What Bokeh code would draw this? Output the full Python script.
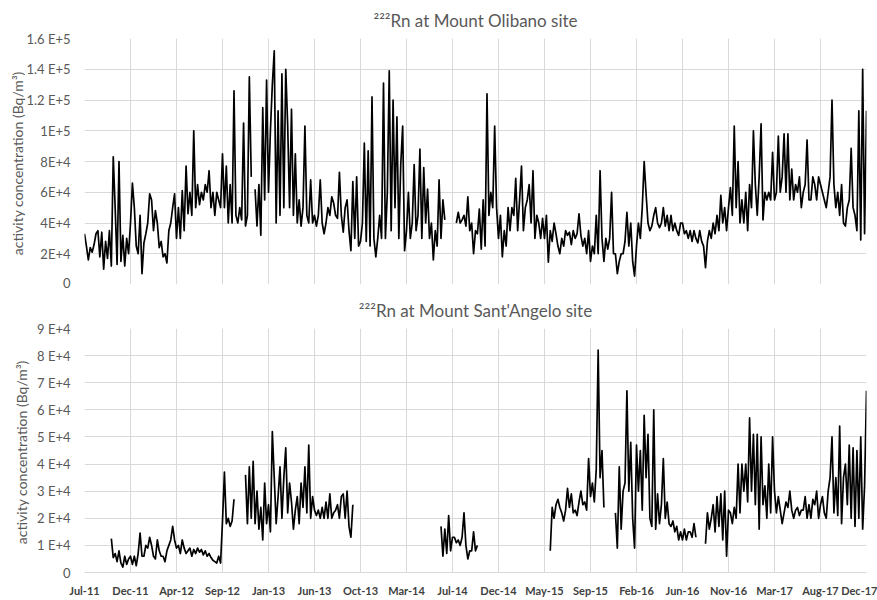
import numpy as np
from bokeh.plotting import figure
from bokeh.layouts import column
from bokeh.models import FixedTicker, Range1d
from bokeh.embed import file_html
from bokeh.resources import INLINE

N = None

# date-axis tick labels (evenly spaced, ~138 days apart, starting Jul-2011)
x_labels = ["Jul-11", "Dec-11", "Apr-12", "Sep-12", "Jan-13", "Jun-13", "Oct-13",
            "Mar-14", "Jul-14", "Dec-14", "May-15", "Sep-15", "Feb-16", "Jun-16",
            "Nov-16", "Mar-17", "Aug-17", "Dec-17"]
TICK_DAYS = 138.25          # days between labelled ticks
STEP_DAYS = TICK_DAYS / 24  # sampling interval of the series (days)

# 222Rn activity concentration at Mount Olibano, in units of 1E+4 Bq/m3
olibano_e4 = [
    3.3, 2.5, 1.6, 2.4, 2.1, 2.6, 3.3, 3.5, 1.8, 3.4, 1.0, 2.8, 1.7, 3.5, 1.2, 8.3, 5.0, 1.3, 8.0, 1.5, 3.2, 1.2, 3.0, 2.0,
    4.0, 6.6, 5.0, 2.5, 2.0, 4.5, 0.7, 2.7, 3.3, 4.0, 5.9, 5.5, 3.5, 4.8, 4.0, 2.4, 2.8, 1.8, 2.0, 1.4, 3.5, 4.0, 5.0, 5.9,
    3.0, 5.0, 3.0, 6.1, 3.5, 7.7, 4.6, 6.0, 4.5, 10.0, 5.0, 6.5, 5.2, 6.0, 5.5, 6.5, 6.0, 7.4, 5.0, 6.0, 4.5, 6.0, 5.5, 5.0,
    8.5, 5.0, 7.7, 4.0, 6.5, 4.0, 12.6, 4.5, 4.0, 5.0, 4.2, 10.5, 3.8, 4.5, 13.5, 7.0, N, 6.2, 3.8, 6.5, 3.2, 11.5, 5.5, 13.3,
    6.0, 10.0, 13.0, 15.2, 4.0, 11.3, 4.5, 13.7, 5.0, 14.0, 10.4, 5.0, 11.4, 4.5, 8.5, 4.0, 5.5, 3.8, 5.0, 10.3, 4.5, 4.0, 6.8, 4.0,
    4.5, 3.8, 4.5, 6.8, 4.0, 3.3, 4.0, 5.0, 4.5, 5.7, 5.3, 4.5, 4.3, 7.3, 4.5, 3.4, 5.0, 5.5, 3.5, 2.2, 6.7, 3.0, 7.0, 2.5,
    2.8, 4.0, 9.2, 2.8, 8.7, 2.5, 12.2, 3.0, 1.8, 3.0, 4.5, 3.0, 13.1, 3.0, 6.0, 13.9, 3.5, 12.0, 5.0, 10.9, 3.0, 7.8, 10.3, 2.2,
    3.5, 6.0, 3.0, 4.0, 7.8, 3.5, 4.5, 8.8, 3.0, 7.6, 4.0, 6.2, 3.0, 4.0, 1.6, 3.5, 2.5, 6.8, 3.0, 5.5, 4.2, N, N, N,
    N, N, 4.0, 4.7, 4.0, 4.2, 4.5, 3.8, 5.7, 3.5, 4.0, 2.0, 3.5, 3.3, 4.9, 2.3, 5.5, 2.5, 12.4, 4.5, 6.0, 5.0, 10.3, 5.0,
    3.0, 4.5, 1.8, 3.5, 2.5, 5.0, 3.5, 5.0, 4.5, 6.9, 3.5, 5.5, 7.7, 3.5, 5.0, 5.5, 6.5, 4.0, 7.4, 3.0, 4.5, 4.0, 3.0, 4.3,
    3.0, 4.5, 1.45, 3.5, 2.8, 4.0, 3.3, 2.5, 2.0, 3.0, 2.5, 3.5, 3.2, 3.4, 2.6, 3.5, 3.0, 3.3, 4.6, 3.2, 2.5, 3.0, 2.0, 3.5,
    1.5, 2.5, 2.0, 4.5, 2.0, 7.4, 3.0, 1.5, 3.0, 2.3, 3.0, 6.0, 2.0, 2.0, 0.7, 1.5, 2.0, 2.0, 2.8, 4.7, 2.5, 4.0, 1.5, 0.55,
    2.5, 4.0, 3.0, 5.0, 8.0, 5.9, 4.0, 3.5, 3.8, 4.5, 5.0, 4.0, 3.7, 4.0, 5.0, 3.8, 4.5, 3.5, 4.5, 3.5, 4.0, 3.5, 3.2, 4.0,
    4.0, 3.3, 3.5, 3.0, 3.5, 2.8, 3.5, 3.0, 2.7, 3.5, 2.8, 2.5, 1.1, 2.8, 3.5, 3.0, 4.0, 3.3, 4.5, 3.5, 5.8, 4.0, 5.0, 3.5,
    5.0, 6.3, 4.5, 10.3, 5.0, 8.0, 4.0, 5.5, 4.0, 6.0, 3.5, 6.5, 5.0, 10.0, 6.5, 4.5, 7.0, 10.45, 4.2, 6.0, 5.5, 6.0, 5.5, 8.6,
    5.5, 6.0, 9.65, 6.0, 7.0, 9.8, 6.0, 9.8, 5.5, 7.5, 5.5, 6.5, 6.0, 7.0, 5.0, 6.0, 6.5, 9.4, 5.5, 5.5, 7.0, 6.5, 5.5, 7.0,
    6.5, 6.0, 5.5, 5.0, 6.0, 7.0, 12.0, 6.5, 5.0, 6.0, 4.5, 6.5, 4.0, 3.8, 5.0, 5.5, 8.85, 5.0, 4.5, 3.5, 11.3, 2.9, 14.0, 3.3,
    11.3,
]

# 222Rn activity concentration at Mount Sant'Angelo, in units of 1E+4 Bq/m3
santangelo_e4 = [
    N, N, N, N, N, N, N, N, N, N, N, N, N, N, 1.25, 0.55, 0.7, 0.4, 0.8, 0.35, 0.2, 0.6, 0.3, 0.5,
    0.6, 0.3, 0.6, 0.25, 0.7, 1.45, 0.6, 0.6, 1.0, 0.9, 1.3, 1.0, 0.6, 0.5, 1.2, 0.8, 0.6, 0.6, 0.4, 0.8, 1.0, 1.2, 1.7, 1.2,
    0.9, 1.0, 0.7, 1.2, 0.9, 0.7, 0.8, 0.9, 0.6, 0.85, 0.7, 0.9, 0.75, 0.85, 0.65, 0.8, 0.6, 0.7, 0.55, 0.45, 0.4, 0.35, 0.6, 0.35,
    1.9, 3.7, 1.8, 2.0, 1.7, 1.9, 2.7, N, N, N, N, N, 3.6, 1.8, 3.9, 2.0, 4.1, 1.8, 3.0, 1.6, 2.4, 1.2, 3.3, 1.8,
    2.5, 1.5, 5.2, 3.5, 1.8, 2.8, 3.9, 2.0, 3.5, 4.6, 2.2, 3.3, 2.6, 1.6, 2.3, 2.8, 1.8, 3.3, 2.4, 3.9, 2.2, 4.7, 2.0, 2.8,
    2.3, 2.1, 2.3, 2.0, 2.4, 2.0, 2.6, 2.0, 2.9, 2.0, 2.2, 2.3, 2.5, 2.0, 2.8, 2.9, 2.0, 3.0, 1.7, 1.3, 2.5, N, N, N,
    N, N, N, N, N, N, N, N, N, N, N, N, N, N, N, N, N, N, N, N, N, N, N, N,
    N, N, N, N, N, N, N, N, N, N, N, N, N, N, N, N, N, N, 1.7, 0.6, 1.6, 0.7, 2.1, 0.8,
    1.3, 1.3, 1.1, 1.2, 1.0, 1.3, 2.2, 1.0, 0.5, 0.8, 0.8, 1.5, 0.8, 1.0, N, N, N, N, N, N, N, N, N, N,
    N, N, N, N, N, N, N, N, N, N, N, N, N, N, N, N, N, N, N, N, N, N, N, N,
    N, N, N, 0.8, 2.4, 2.0, 2.5, 2.7, 2.4, 2.2, 1.9, 2.3, 3.1, 2.4, 2.9, 2.2, 2.3, 2.1, 2.6, 3.0, 2.5, 2.6, 2.3, 4.2,
    2.8, 3.3, 2.6, 3.8, 8.2, 3.5, 4.5, 2.4, N, N, N, N, N, 2.2, 0.9, 3.9, 1.6, 3.0, 3.3, 6.7, 3.0, 4.8, 2.0, 0.9,
    4.7, 3.0, 4.5, 2.3, 5.8, 3.5, 5.1, 2.0, 1.7, 6.0, 1.6, 2.9, 1.8, 2.5, 4.2, 2.0, 2.6, 1.8, 1.7, 1.9, 1.5, 1.7, 1.2, 1.5,
    1.2, 1.6, 1.2, 1.5, 1.5, 1.3, 1.8, 1.3, N, N, N, N, 1.06, 2.2, 1.6, 2.0, 2.5, 1.5, 2.8, 1.7, 2.9, 1.2, 3.0, 0.6,
    2.3, 2.2, 1.8, 2.4, 2.0, 4.0, 2.2, 4.0, 3.0, 4.0, 2.6, 5.7, 3.0, 5.1, 2.5, 5.1, 1.6, 5.0, 2.5, 3.2, 2.0, 4.0, 2.2, 5.0,
    3.0, 2.2, 2.8, 2.3, 1.8, 2.2, 2.6, 2.4, 3.0, 2.3, 2.0, 2.3, 2.4, 2.1, 2.3, 2.3, 2.8, 2.0, 2.5, 2.0, 2.7, 2.5, 3.0, 2.0,
    2.5, 2.8, 2.2, 2.0, 3.0, 3.5, 5.0, 2.2, 3.5, 2.1, 5.4, 1.8, 3.5, 4.0, 2.5, 4.7, 2.0, 4.6, 1.7, 4.5, 2.0, 5.0, 1.6, 3.2,
    6.7,
]

olibano_y_ticks = [0, 20000, 40000, 60000, 80000, 100000, 120000, 140000, 160000]
olibano_y_labels = ["0", "2E+4", "4E+4", "6E+4", "8E+4", "1E+5", "1.2 E+5", "1.4 E+5", "1.6 E+5"]
santangelo_y_ticks = [0, 10000, 20000, 30000, 40000, 50000, 60000, 70000, 80000, 90000]
santangelo_y_labels = ["0", "1 E+4", "2 E+4", "3 E+4", "4 E+4", "5 E+4", "6 E+4", "7 E+4", "8 E+4", "9 E+4"]

FONT = "Lato"
GRID = "#d9d9d9"
TXT = "#595959"


def panel(title, vals, yticks, ylabels, show_x, height, top, bottom, label_standoff):
    days = np.arange(len(vals)) * STEP_DAYS
    conc = np.array(vals, dtype=float) * 1e4
    xt = [i * TICK_DAYS for i in range(len(x_labels))]
    p = figure(width=877, height=height,
               x_range=Range1d(0, xt[-1]), y_range=Range1d(0, yticks[-1]),
               output_backend="svg", toolbar_location=None,
               min_border_left=84, min_border_right=11,
               min_border_top=top, min_border_bottom=bottom)
    p.outline_line_color = None
    p.background_fill_color = "white"
    p.border_fill_color = "white"

    p.title.text = title
    p.title.align = "center"
    p.title.text_font = FONT
    p.title.text_font_size = "17px"
    p.title.text_font_style = "normal"
    p.title.text_color = TXT
    p.title.standoff = 15

    xticker = FixedTicker(ticks=xt)
    yticker = FixedTicker(ticks=yticks)
    p.xaxis.ticker = xticker
    p.yaxis.ticker = yticker
    p.xgrid.ticker = xticker
    p.ygrid.ticker = yticker
    p.xgrid.grid_line_color = GRID
    p.ygrid.grid_line_color = GRID
    p.xgrid.grid_line_width = 1
    p.ygrid.grid_line_width = 1

    p.yaxis.major_label_overrides = {t: l for t, l in zip(yticks, ylabels)}
    p.yaxis.axis_line_color = None
    p.yaxis.major_tick_line_color = None
    p.yaxis.minor_tick_line_color = None
    p.yaxis.major_label_standoff = 8
    p.yaxis.major_label_text_font = FONT
    p.yaxis.major_label_text_font_size = "13px"
    p.yaxis.major_label_text_color = TXT
    p.yaxis.axis_label = "activity  concentration (Bq/m³)"
    p.yaxis.axis_label_text_font = FONT
    p.yaxis.axis_label_text_font_size = "14px"
    p.yaxis.axis_label_text_font_style = "normal"
    p.yaxis.axis_label_text_color = TXT
    p.yaxis.axis_label_standoff = label_standoff

    if show_x:
        p.xaxis.major_label_overrides = {t: l for t, l in zip(xt, x_labels)}
        p.xaxis.axis_line_color = GRID
        p.xaxis.major_tick_line_color = None
        p.xaxis.minor_tick_line_color = None
        p.xaxis.major_label_standoff = 5
        p.xaxis.major_label_text_font = FONT
        p.xaxis.major_label_text_font_size = "11px"
        p.xaxis.major_label_text_font_style = "bold"
        p.xaxis.major_label_text_color = "#404040"
    else:
        p.xaxis.visible = False

    p.line(days, conc, line_color="black", line_width=1.7, line_join="round")
    return p


p_top = panel("²²²Rn at Mount Olibano site", olibano_e4,
              olibano_y_ticks, olibano_y_labels, False, 290, 38, 6, -3)
p_bot = panel("²²²Rn at Mount Sant'Angelo site", santangelo_e4,
              santangelo_y_ticks, santangelo_y_labels, True, 310, 37, 28, 4)

layout = column(p_top, p_bot)
open("out.html", "w").write(file_html(layout, INLINE))
